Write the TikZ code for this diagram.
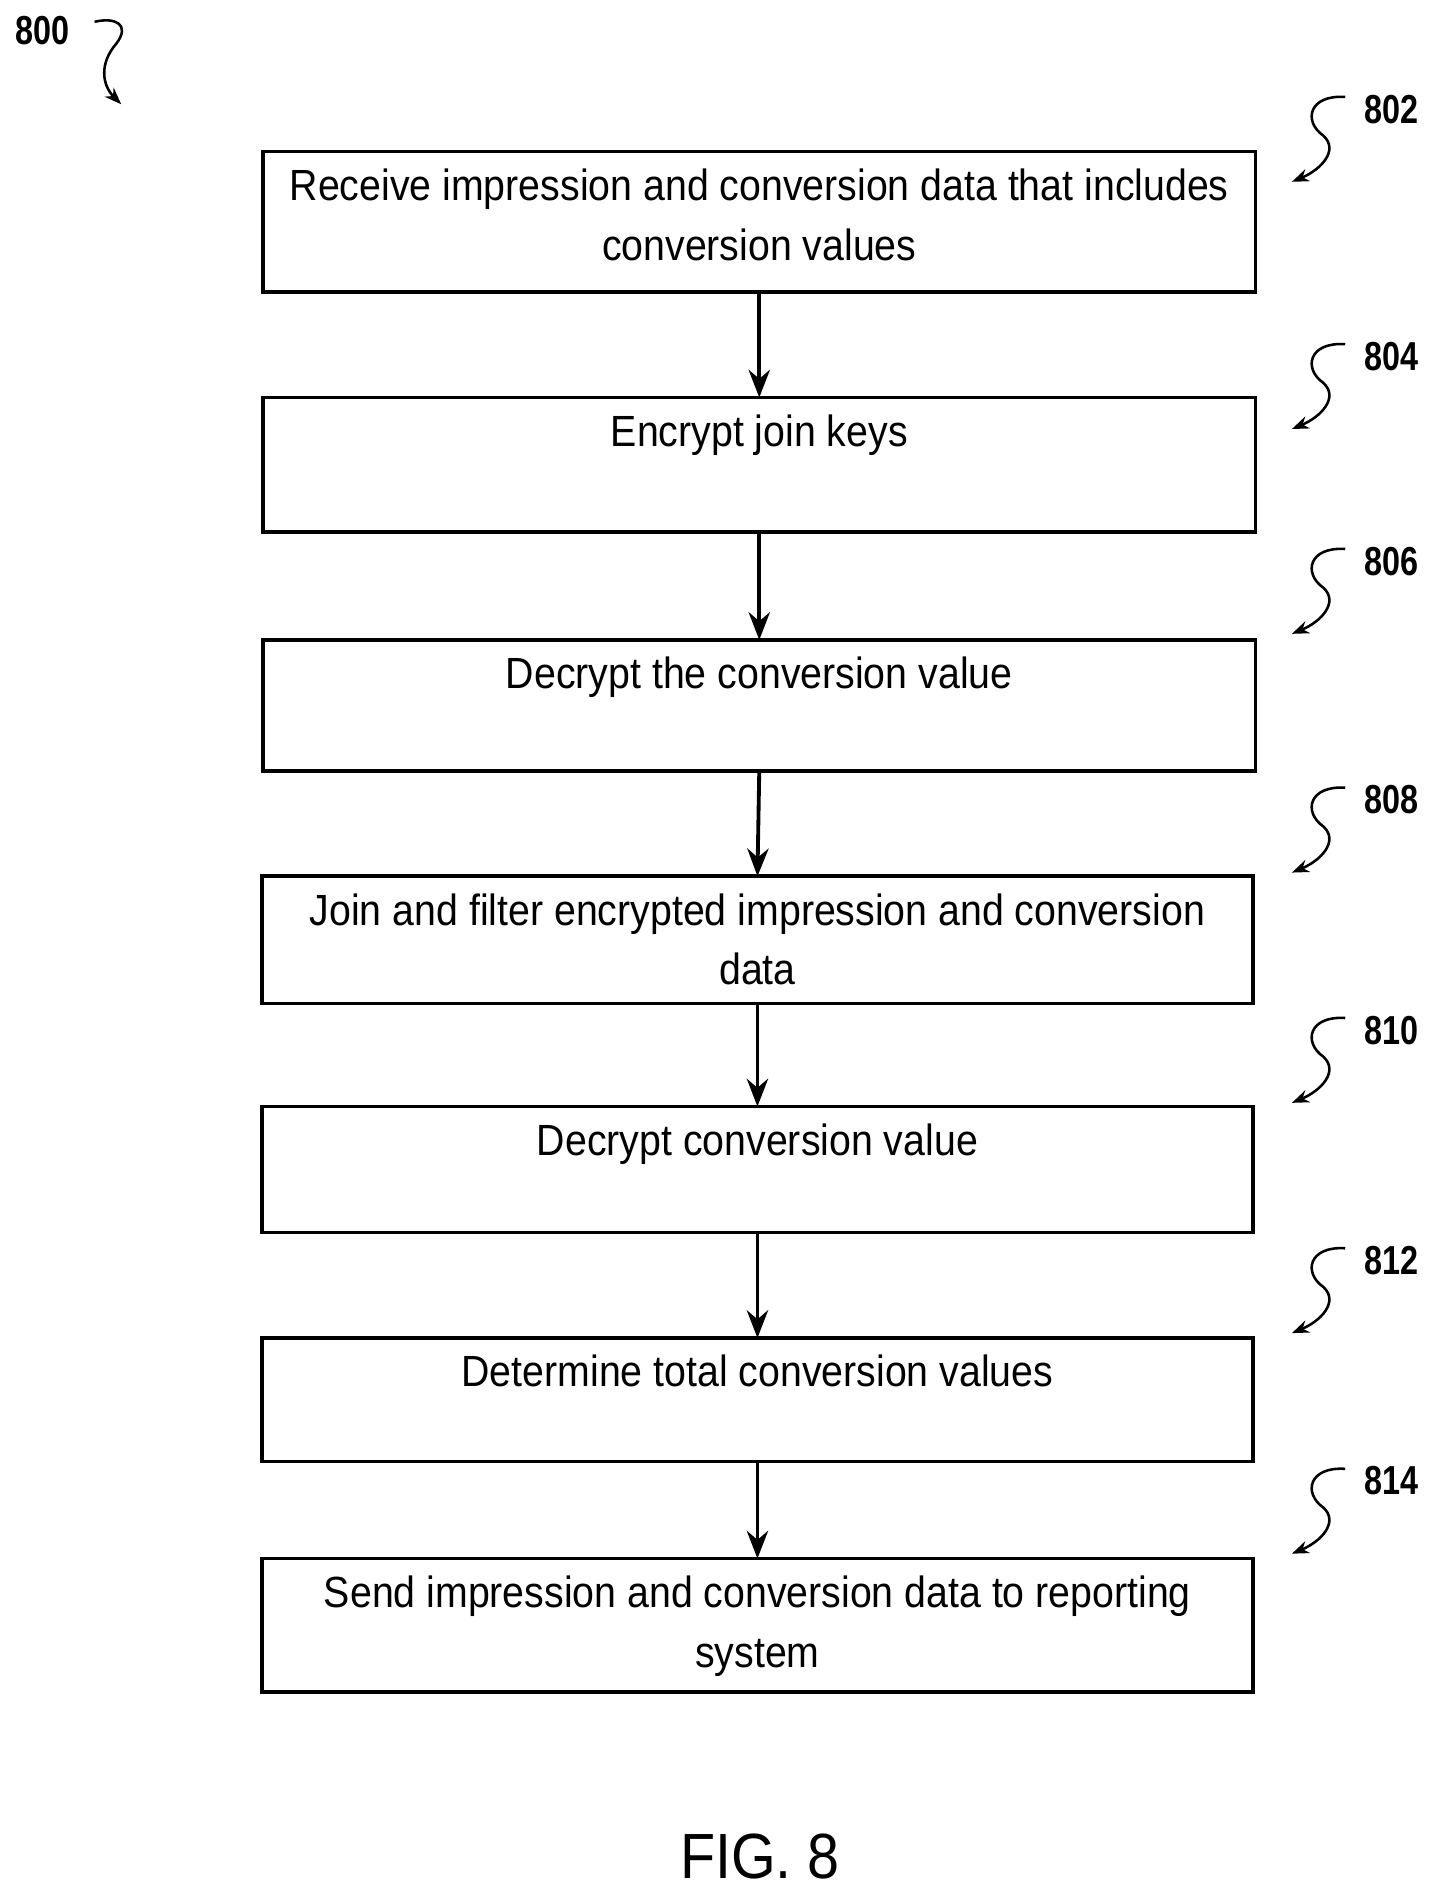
\documentclass[tikz,border=0pt]{standalone}
\usepackage{fontspec}
\setmainfont{Liberation Sans}[FakeStretch=0.9]
\newfontfamily\lblfont{Liberation Sans}[FakeStretch=0.8]
\usetikzlibrary{arrows.meta}
\begin{document}
\begin{tikzpicture}[x=0.02cm,y=-0.02cm,
  box/.style={draw,line width=1.7pt},
  txt/.style={anchor=north,align=center,font=\fontsize{20.5}{28}\selectfont,inner sep=0pt},
  lbl/.style={font=\lblfont\bfseries\fontsize{19}{22}\selectfont},
  arr/.style={-{Stealth[length=13pt,width=10pt]},line width=1.8pt},
  sq/.style={-{Stealth[length=8pt,width=6pt]},line width=1.2pt}]
\useasboundingbox (0,0) rectangle (1188,1562);
\newcommand\stepbox[6]{%
  \draw[box] (#2,#3) rectangle (#4,#5);
  \node[txt] (t#1) at ({(#2+#4)/2},#3+14) {#6};
  \coordinate (top#1) at ({(#2+#4)/2},#3);
  \coordinate (bot#1) at ({(#2+#4)/2},#5);}
\stepbox{802}{217}{125}{1036}{241}{Receive impression and conversion data that includes\\conversion values}
\stepbox{804}{217}{328}{1036}{439}{Encrypt join keys}
\stepbox{806}{217}{528}{1036}{636}{Decrypt the conversion value}
\stepbox{808}{216}{723}{1034}{828}{Join and filter encrypted impression and conversion\\data}
\stepbox{810}{216}{913}{1034}{1017}{Decrypt conversion value}
\stepbox{812}{216}{1104}{1034}{1206}{Determine total conversion values}
\stepbox{814}{216}{1286}{1034}{1396}{Send impression and conversion data to reporting\\system}
\draw[arr] (bot802) -- (top804);
\draw[arr] (bot804) -- (top806);
\draw[arr] (bot806) -- (top808);
\draw[arr] (bot808) -- (top810);
\draw[arr] (bot810) -- (top812);
\draw[arr] (bot812) -- (top814);
\foreach \n/\y in {802/90,804/294,806/463,808/660,810/850,812/1040,814/1222}{
  \node[lbl] (l\n) at (1148,\y) {\n};
  \coordinate (s\n) at (1110,\y-10);
  \coordinate (e\n) at (1066,\y+60);
  \draw[sq] (s\n) .. controls (1080,\y-12) and (1075,\y+10) .. (1092,\y+22)
     .. controls (1105,\y+34) and (1090,\y+50) .. (e\n);
}
\node[lbl] (l800) at (35,25) {800};
\coordinate (s800) at (78,18);
\coordinate (e800) at (100,86);
\draw[sq] (s800) .. controls (95,14) and (108,20) .. (96,36)
   .. controls (82,52) and (84,70) .. (e800);
\node[font=\fontsize{30}{34}\selectfont] (fig) at (627,1532) {FIG. 8};
\end{tikzpicture}
\end{document}
